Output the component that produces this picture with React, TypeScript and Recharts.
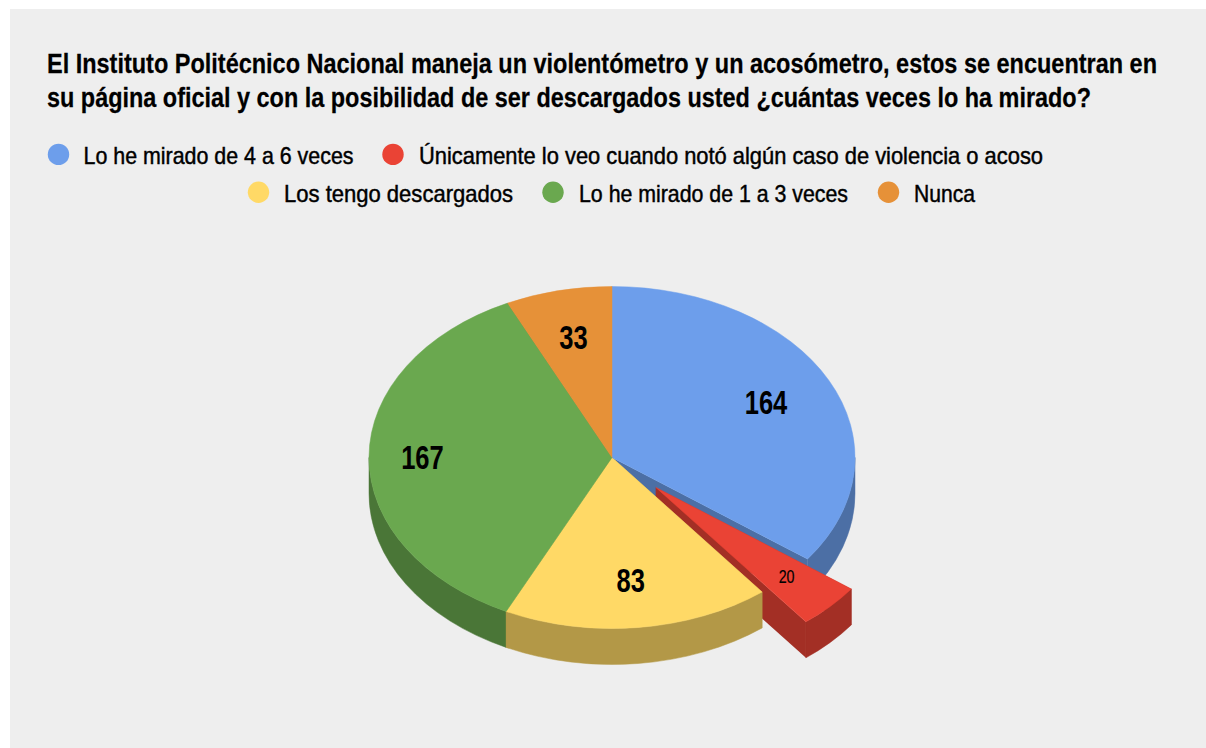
import { PieChart, Pie, Legend } from "recharts";

const TITLE_LINES = [
  "El Instituto Politécnico Nacional maneja un violentómetro y un acosómetro, estos se encuentran en",
  "su página oficial y con la posibilidad de ser descargados usted ¿cuántas veces lo ha mirado?",
];
const CATEGORIES = [
  "Lo he mirado de 4 a 6 veces",
  "Únicamente lo veo cuando notó algún caso de violencia o acoso",
  "Los tengo descargados",
  "Lo he mirado de 1 a 3 veces",
  "Nunca",
];
const VALUES = [164, 20, 83, 167, 33];
const COLORS = ["#6d9eeb", "#ea4335", "#ffd966", "#6aa84f", "#e69138"];
const SIDE_COLORS = ["#4c6fa5", "#a32f25", "#b39847", "#4a7637", "#a16527"];

const data = CATEGORIES.map((name, i) => ({ name, value: VALUES[i], fill: COLORS[i] }));

// layout
const FONT = "'Liberation Sans', Arial, sans-serif";
const CX = 612;
const CY = 457.5;
const RX = 243;
const SQUASH = 171 / 243;
const DEPTH = 36;
const RED = 1;
const YELLOW = 2;
const EXPLODE = 61;
const TITLE_SQUEEZE = 0.87;
const TITLE_POS = [
  { base: 72.7, w: 1110 },
  { base: 106.7, w: 1044 },
];
const LABEL_FRACTION = [0.71, 0.75, 0.72, 0.78, 0.72];
const LEGEND_POS = [
  { cx: 58.5, tx: 83.5, w: 270, base: 164.2 },
  { cx: 393, tx: 419, w: 624, base: 164.2 },
  { cx: 258.5, tx: 284, w: 229, base: 202 },
  { cx: 553, tx: 579, w: 269, base: 202 },
  { cx: 888.5, tx: 914, w: 61, base: 202 },
];

const rad = (a: number) => (a * Math.PI) / 180;
const pt = (cx: number, cy: number, r: number, a: number) => [
  cx + r * Math.cos(rad(a)),
  cy - r * SQUASH * Math.sin(rad(a)),
];
// pie angles run clockwise, so a slice goes from a1 down to a2
const arc = (r: number, a1: number, a2: number, cx: number, cy: number) => {
  const [x, y] = pt(cx, cy, r, a2);
  return `A${r} ${r * SQUASH} 0 ${a1 - a2 > 180 ? 1 : 0} 1 ${x} ${y}`;
};

function Walls({ cx, cy, r, a1, a2, color }: any) {
  const [sx, sy] = pt(cx, cy, r, a1);
  const [ex, ey] = pt(cx, cy, r, a2);
  const hi = Math.min(a1, 0);
  const lo = Math.max(a2, -180);
  let outer = null;
  if (hi > lo) {
    const [hx, hy] = pt(cx, cy, r, hi);
    const [lx, ly] = pt(cx, cy, r, lo);
    const d =
      `M${hx} ${hy}` + arc(r, hi, lo, cx, cy) + `L${lx} ${ly + DEPTH}` +
      `A${r} ${r * SQUASH} 0 0 0 ${hx} ${hy + DEPTH}Z`;
    outer = <path d={d} fill={color} stroke={color} strokeWidth={0.5} />;
  }
  return (
    <g>
      <path d={`M${cx} ${cy}L${sx} ${sy}L${sx} ${sy + DEPTH}L${cx} ${cy + DEPTH}Z`} fill={color} />
      <path d={`M${cx} ${cy}L${ex} ${ey}L${ex} ${ey + DEPTH}L${cx} ${cy + DEPTH}Z`} fill={color} />
      {outer}
    </g>
  );
}

function Top({ cx, cy, r, a1, a2, color }: any) {
  const [sx, sy] = pt(cx, cy, r, a1);
  return (
    <path
      d={`M${cx} ${cy}L${sx} ${sy}` + arc(r, a1, a2, cx, cy) + "Z"}
      fill={color}
      stroke={color}
      strokeWidth={0.5}
    />
  );
}

const explodeOf = (i: number, a1: number, a2: number) => {
  if (i !== RED) return [0, 0];
  const mid = (a1 + a2) / 2;
  return [EXPLODE * Math.cos(rad(mid)), -EXPLODE * SQUASH * Math.sin(rad(mid))];
};

// draw order: back walls, red slice, yellow slice, remaining tops
const makeShape = (layer: string) => (props: any) => {
  const { cx, cy, outerRadius, startAngle, endAngle, index } = props;
  const [dx, dy] = explodeOf(index, startAngle, endAngle);
  const common = { cx: cx + dx, cy: cy + dy, r: outerRadius, a1: startAngle, a2: endAngle };
  const single = index === RED || index === YELLOW;
  if (layer === "walls") {
    return single ? <g /> : <Walls {...common} color={SIDE_COLORS[index]} />;
  }
  if (layer === "tops") {
    return single ? <g /> : <Top {...common} color={COLORS[index]} />;
  }
  const wanted = layer === "red" ? RED : YELLOW;
  if (index !== wanted) return <g />;
  return (
    <g>
      <Walls {...common} color={SIDE_COLORS[index]} />
      <Top {...common} color={COLORS[index]} />
    </g>
  );
};

const renderLabel = (props: any) => {
  const { cx, cy, outerRadius, midAngle, index } = props;
  const [dx, dy] = explodeOf(index, midAngle, midAngle);
  const [x, y] = pt(cx + dx, cy + dy, outerRadius * LABEL_FRACTION[index], midAngle);
  const text = String(VALUES[index]);
  const small = index === RED;
  const size = small ? 18 : 33;
  const base = small ? 6.5 : 11.7;
  return (
    <text
      x={x}
      y={y + base}
      textAnchor="middle"
      fill="#000"
      fontFamily={FONT}
      fontSize={size}
      fontWeight={small ? "normal" : "bold"}
      stroke="#000"
      strokeWidth={small ? 0.2 : 0}
      textLength={text.length * size * (small ? 0.44 : 0.43)}
      lengthAdjust="spacingAndGlyphs"
    >
      {text}
    </text>
  );
};

// the four stacked pies each report their items, so look the slots up by name
const renderLegend = ({ payload }: any) => {
  const colorOf = (name: string) =>
    (payload || []).find((it: any) => it.value === name)?.color ?? COLORS[CATEGORIES.indexOf(name)];
  return (
    <svg width={1206} height={230} style={{ display: "block" }}>
      {CATEGORIES.map((name, i) => {
        const p = LEGEND_POS[i];
        return (
          <g key={name}>
            <circle cx={p.cx} cy={p.base - 9.8} r={10.7} fill={colorOf(name)} />
            <text
              x={p.tx}
              y={p.base}
              fill="#000"
              fontFamily={FONT}
              fontSize={24}
              stroke="#000"
              strokeWidth={0.45}
              textLength={p.w}
              lengthAdjust="spacingAndGlyphs"
            >
              {name}
            </text>
          </g>
        );
      })}
    </svg>
  );
};

const pieProps = {
  data,
  dataKey: "value",
  nameKey: "name",
  cx: CX,
  cy: CY,
  outerRadius: RX,
  startAngle: 90,
  endAngle: -270,
  paddingAngle: 0,
  isAnimationActive: false,
};

export default function App() {
  return (
    <div style={{ position: "absolute", left: 0, top: 0, width: 1206, height: 748, background: "#fff", overflow: "hidden" }}>
      <div style={{ position: "absolute", left: 10, top: 9, width: 1196, height: 739, background: "#eeeeee" }} />
      <PieChart width={1206} height={748} margin={{ top: 0, right: 0, bottom: 0, left: 0 }}>
        {TITLE_LINES.map((line, i) => (
          <text
            key={i}
            transform={`translate(47 ${TITLE_POS[i].base}) scale(${TITLE_SQUEEZE} 1)`}
            fontFamily={FONT}
            fontWeight="bold"
            fontSize={27}
            fill="#000"
            stroke="#000"
            strokeWidth={0.25}
            textLength={TITLE_POS[i].w / TITLE_SQUEEZE}
            lengthAdjust="spacingAndGlyphs"
          >
            {line}
          </text>
        ))}
        <Pie {...pieProps} legendType="none" shape={makeShape("walls")} />
        <Pie {...pieProps} legendType="none" shape={makeShape("red")} />
        <Pie {...pieProps} legendType="none" shape={makeShape("yellow")} />
        <Pie {...pieProps} shape={makeShape("tops")} label={renderLabel} labelLine={false} />
        <Legend
          verticalAlign="middle"
          align="center"
          content={renderLegend}
          wrapperStyle={{ left: 0, top: 0, width: 1206, height: 230, margin: 0 }}
        />
      </PieChart>
    </div>
  );
}
